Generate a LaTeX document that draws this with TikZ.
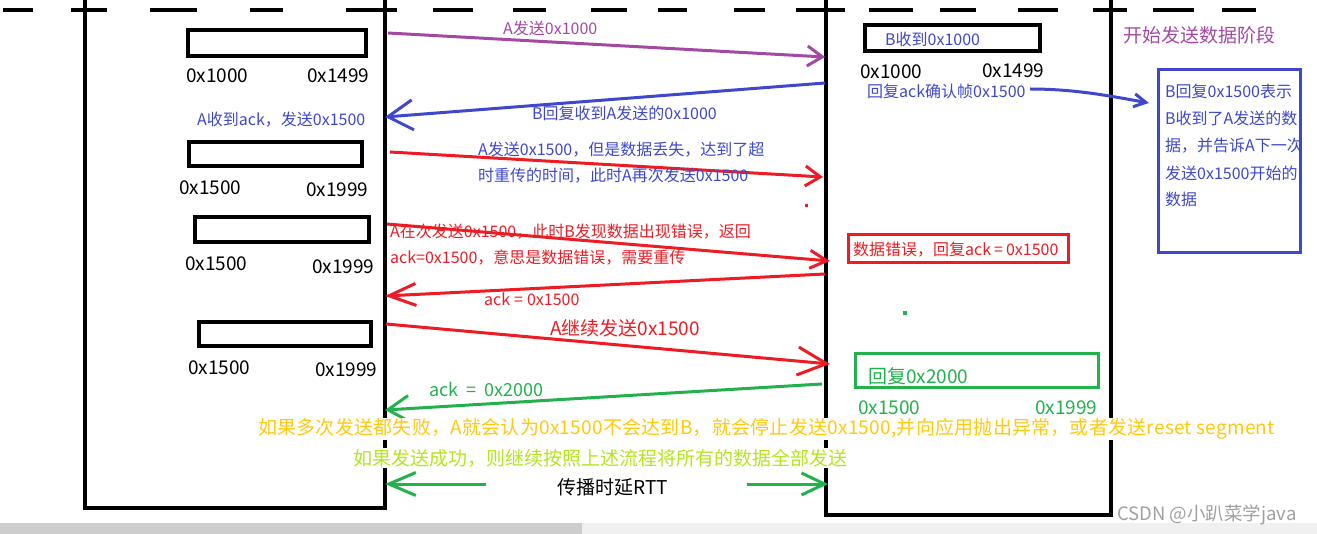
\documentclass[tikz,border=0pt]{standalone}
\usepackage{fontspec}
\newfontfamily\cjk{Noto Sans CJK SC}
\newfontfamily\cjkwide[LetterSpace=1.3]{Noto Sans CJK SC}
\usetikzlibrary{arrows.meta}
\definecolor{cpurple}{HTML}{A349A4}
\definecolor{cblue}{HTML}{3F48CC}
\definecolor{cred}{HTML}{ED1C24}
\definecolor{cgreen}{HTML}{22B14C}
\definecolor{corange}{HTML}{FFC90E}
\definecolor{clime}{HTML}{B5E61D}
\definecolor{cgrayA}{HTML}{CDCDCD}
\definecolor{cgrayB}{HTML}{F0F0F0}
\definecolor{cwm}{HTML}{A0A0A0}
\begin{document}
\begin{tikzpicture}[x=1pt,y=-1pt,
  lbl/.style={inner sep=0pt, anchor=west, font=\cjk\fontsize{#1}{#1}\selectfont},
  lbl/.default=16,
  life/.style={line width=4.5pt, line join=miter},
  dashseg/.style={line width=4pt},
  blk/.style={draw=black, line width=4pt, inner sep=0pt},
  cbox/.style={draw=#1, line width=3pt, inner sep=0pt},
  arr/.style={line width=3pt},
]
\useasboundingbox (0,0) rectangle (1317,534);
% bottom scroll band
\fill[cgrayB] (0,523) rectangle (1317,534);
\fill[cgrayA] (0,523) rectangle (582,534);
% top dashed line
\foreach \a/\b in {3/33,71/107,150/197,250/283,346/397,433/473,513/546,591/627,658/687,734/765,796/845,869/913,940/976,1018/1058,1093/1127,1153/1194,1222/1256}
  \draw[dashseg] (\a,10) -- (\b,10);
% lifelines
\draw[life] (85,0) -- (85,508) -- (385,508) -- (385,0);
\draw[life] (826,0) -- (826,515) -- (1111,515) -- (1111,0);
% data blocks
\node[blk, minimum width=178pt, minimum height=26pt] (a1) at (277,43) {};
\node[blk, minimum width=173pt, minimum height=24pt] (a2) at (275.5,154) {};
\node[blk, minimum width=174pt, minimum height=25pt] (a3) at (282,229.5) {};
\node[blk, minimum width=172pt, minimum height=24pt] (a4) at (285,334) {};
\node[blk, minimum width=175pt, minimum height=26pt] (b1) at (952.5,38) {};
\node[cbox=cblue, minimum width=142pt, minimum height=183pt] (note) at (1229,161.5) {};
\node[cbox=cred, minimum width=220pt, minimum height=28pt] (errbox) at (958,249) {};
\node[cbox=cgreen, minimum width=243pt, minimum height=34pt] (okbox) at (976.5,371) {};
% dots
\fill[cred] (804.5,204.5) rectangle (807.5,207.5);
\fill[cgreen] (903,311) rectangle (907,315);
% arrow end points
\coordinate (m1s) at (388,33);  \coordinate (m1e) at (825,57);
\coordinate (m2s) at (825,83);  \coordinate (m2e) at (385,117);
\coordinate (m3s) at (390,152); \coordinate (m3e) at (823,177);
\coordinate (m4s) at (387,224); \coordinate (m4e) at (830,261);
\coordinate (m5s) at (825,274); \coordinate (m5e) at (385,296);
\coordinate (m6s) at (386,324); \coordinate (m6e) at (830,364);
\coordinate (m7s) at (822,384); \coordinate (m7e) at (385,410);
\coordinate (rls) at (486,484); \coordinate (rle) at (385,484);
\coordinate (rrs) at (747,484); \coordinate (rre) at (828,484);
\coordinate (cvs) at (1030,89); \coordinate (cve) at (1149,103);
% arrows
\draw[arr, cpurple, -{Straight Barb[length=15pt,width=20pt]}] (m1s) -- (m1e);
\draw[arr, cblue, -{Straight Barb[length=25pt,width=30pt]}] (m2s) -- (m2e);
\draw[arr, cred, -{Straight Barb[length=15pt,width=20pt]}] (m3s) -- (m3e);
\draw[arr, cred, -{Straight Barb[length=17pt,width=18pt]}] (m4s) -- (m4e);
\draw[arr, cred, -{Straight Barb[length=27pt,width=22pt]}] (m5s) -- (m5e);
\draw[arr, cred, -{Straight Barb[length=29pt,width=28pt]}] (m6s) -- (m6e);
\draw[arr, cgreen, -{Straight Barb[length=21pt,width=26pt]}] (m7s) -- (m7e);
\draw[arr, cgreen, -{Straight Barb[length=27pt,width=23pt]}] (rls) -- (rle);
\draw[arr, cgreen, -{Straight Barb[length=23pt,width=22pt]}] (rrs) -- (rre);
\draw[arr, cblue, -{Straight Barb[length=12pt,width=13pt]}] (cvs) .. controls (1075,89) and (1110,96) .. (cve);
% A side labels
\node[lbl=19] (l1) at (186,76) {0x1000};
\node[lbl=19] (l2) at (307,76) {0x1499};
\node[lbl=19] (l3) at (179,188) {0x1500};
\node[lbl=19] (l4) at (306,190) {0x1999};
\node[lbl=19] (l5) at (185,264) {0x1500};
\node[lbl=19] (l6) at (312,267) {0x1999};
\node[lbl=19] (l7) at (188,368) {0x1500};
\node[lbl=19] (l8) at (315,370) {0x1999};
\node[lbl, text=cblue] (t1) at (197,120) {A收到ack，发送0x1500};
% message labels
\node[lbl, text=cpurple] (t2) at (503,28) {A发送0x1000};
\node[lbl, text=cblue] (t3) at (532,113) {B回复收到A发送的0x1000};
\node[lbl, text=cblue] (t4) at (478,150) {A发送0x1500，但是数据丢失，达到了超};
\node[lbl, text=cblue] (t5) at (478,176) {时重传的时间，此时A再次发送0x1500};
\node[lbl, text=cred] (t6) at (390,232) {A在次发送0x1500，此时B发现数据出现错误，返回};
\node[lbl, text=cred] (t7) at (390,258) {ack=0x1500，意思是数据错误，需要重传};
\node[lbl, text=cred] (t8) at (484,299) {ack\hspace{4pt}=\hspace{4pt}0x1500};
\node[lbl=19, text=cred] (t9) at (550,328) {A继续发送0x1500};
\node[lbl=18, text=cgreen] (t10) at (429,389) {ack\hspace{8pt}=\hspace{8pt}0x2000};
\node[inner sep=1pt, anchor=west, font=\cjkwide\fontsize{19}{19}\selectfont, text=corange, fill=white] (t11) at (257,429) {如果多次发送都失败，A就会认为0x1500不会达到B，就会停止发送0x1500,并向应用抛出异常，或者发送reset segment};
\node[lbl=19, text=clime, fill=white, inner sep=1pt] (t12) at (352,458) {如果发送成功，则继续按照上述流程将所有的数据全部发送};
\node[lbl=19] (t13) at (557,487) {传播时延RTT};
% B side labels
\node[lbl, text=cblue] (b1t) at (885,39) {B收到0x1000};
\node[lbl=19] (b2) at (860,72) {0x1000};
\node[lbl=19] (b3) at (982,71) {0x1499};
\node[lbl, text=cblue] (b4) at (867,91) {回复ack确认帧0x1500};
\node[lbl=19, text=cpurple] (ph) at (1123,35) {开始发送数据阶段};
\node[lbl, text=cblue] (n1) at (1165,91) {B回复0x1500表示};
\node[lbl, text=cblue] (n2) at (1165,118) {B收到了A发送的数};
\node[lbl, text=cblue] (n3) at (1165,146) {据，并告诉A下一次};
\node[lbl, text=cblue] (n4) at (1165,173) {发送0x1500开始的};
\node[lbl, text=cblue] (n5) at (1165,199) {数据};
\node[lbl, text=cred] (et) at (853,250) {数据错误，回复ack\hspace{3pt}=\hspace{3pt}0x1500};
\node[lbl=19, text=cgreen] (ok) at (868,376) {回复0x2000};
\node[lbl=19, text=cgreen] (g1) at (858,408) {0x1500};
\node[lbl=19, text=cgreen] (g2) at (1035,408) {0x1999};
\node[lbl=18.5, text=cwm] (wm) at (1117,515) {CSDN @小趴菜学java};
\end{tikzpicture}
\end{document}
